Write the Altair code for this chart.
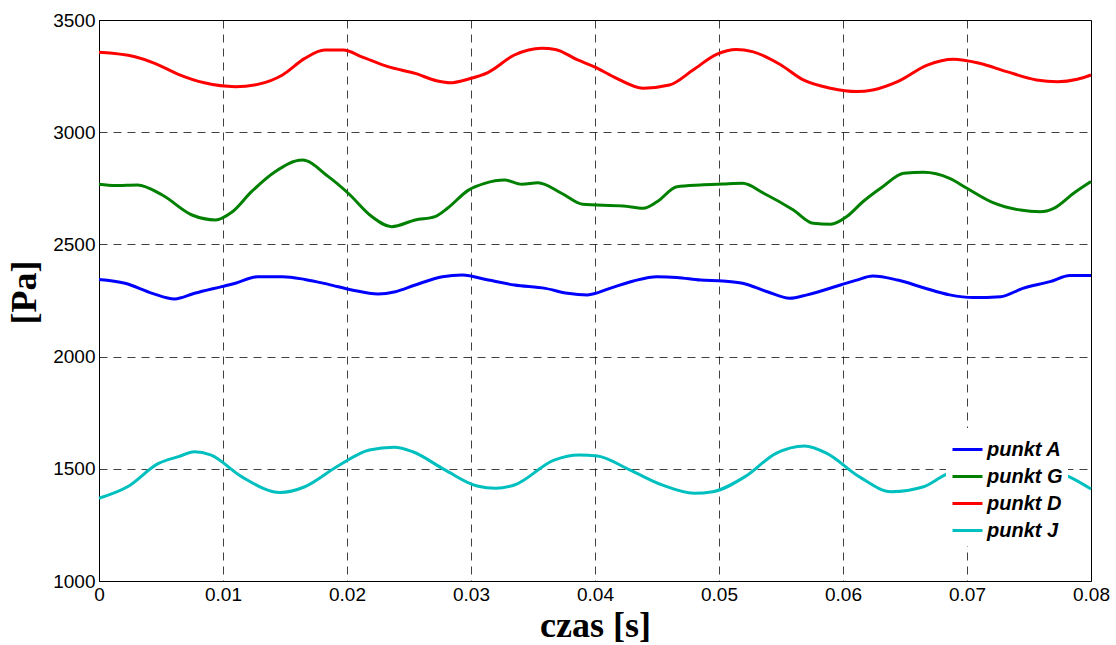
import altair as alt
import pandas as pd

# Pressure time series at four probe points (time in s, pressure in Pa)
t_A = [0, 0.0021, 0.0043, 0.0061, 0.0077, 0.0099, 0.011, 0.0128, 0.0148, 0.0166,
       0.0185, 0.0204, 0.0225, 0.0239, 0.0255, 0.0277, 0.0293, 0.0314, 0.0335, 0.036,
       0.0378, 0.0394, 0.0412, 0.0431, 0.045, 0.0466, 0.0485, 0.0503, 0.0519, 0.0539,
       0.0557, 0.0571, 0.0598, 0.0611, 0.0624, 0.0644, 0.0665, 0.0686, 0.0705, 0.0727,
       0.0745, 0.0767, 0.0783, 0.08]
p_A = [2344, 2327, 2282, 2257, 2282, 2312, 2327, 2356, 2356, 2344,
       2322, 2297, 2279, 2289, 2319, 2356, 2364, 2341, 2319, 2304,
       2282, 2275, 2304, 2337, 2356, 2353, 2341, 2337, 2327, 2289,
       2260, 2275, 2319, 2341, 2359, 2341, 2307, 2275, 2263, 2267,
       2304, 2334, 2361, 2361]

t_G = [0, 0.0013, 0.0031, 0.0051, 0.0075, 0.0094, 0.0107, 0.0123, 0.0142, 0.0164,
       0.0185, 0.0201, 0.022, 0.0236, 0.0255, 0.0271, 0.0281, 0.0298, 0.0311, 0.0327,
       0.0341, 0.0354, 0.0373, 0.039, 0.0423, 0.0439, 0.045, 0.0466, 0.0485, 0.0503,
       0.0519, 0.0536, 0.056, 0.0576, 0.059, 0.0603, 0.0616, 0.0632, 0.0649, 0.0665,
       0.0686, 0.07, 0.0721, 0.0743, 0.0759, 0.077, 0.0786, 0.08]
p_G = [2768, 2762, 2765, 2720, 2631, 2609, 2643, 2735, 2824, 2876,
       2802, 2728, 2624, 2579, 2609, 2624, 2661, 2742, 2772, 2787,
       2768, 2775, 2728, 2679, 2671, 2661, 2690, 2757, 2765, 2769,
       2772, 2728, 2653, 2594, 2590, 2624, 2690, 2757, 2817, 2821,
       2794, 2750, 2686, 2653, 2646, 2661, 2728, 2780]

t_D = [0, 0.0029, 0.0045, 0.0064, 0.0085, 0.011, 0.0128, 0.0148, 0.0166, 0.0182,
       0.0197, 0.0212, 0.0233, 0.0255, 0.0273, 0.0283, 0.0298, 0.0314, 0.0335, 0.0357,
       0.0368, 0.0386, 0.04, 0.0415, 0.0439, 0.046, 0.0479, 0.0498, 0.0514, 0.0527,
       0.0549, 0.0568, 0.059, 0.0611, 0.0624, 0.0644, 0.0668, 0.0689, 0.071, 0.0732,
       0.0756, 0.0773, 0.0789, 0.08]
p_D = [3356, 3336, 3307, 3258, 3220, 3203, 3213, 3255, 3329, 3366,
       3366, 3336, 3292, 3262, 3228, 3220, 3237, 3267, 3344, 3374,
       3369, 3322, 3290, 3247, 3196, 3210, 3277, 3347, 3369, 3359,
       3303, 3233, 3196, 3181, 3188, 3225, 3299, 3325, 3307, 3270,
       3233, 3225, 3236, 3255]

t_J = [0, 0.0023, 0.0048, 0.0064, 0.0077, 0.009, 0.0115, 0.0146, 0.0166, 0.0192,
       0.0218, 0.0238, 0.0253, 0.0279, 0.0305, 0.032, 0.0335, 0.0367, 0.0387, 0.0402,
       0.0428, 0.0454, 0.048, 0.0495, 0.0521, 0.0546, 0.0569, 0.0587, 0.0613, 0.0639,
       0.0665, 0.0682, 0.072, 0.0745, 0.0783, 0.08]
p_J = [1369, 1420, 1524, 1554, 1576, 1562, 1465, 1394, 1420, 1510,
       1584, 1596, 1576, 1495, 1423, 1413, 1428, 1539, 1562, 1557,
       1495, 1428, 1391, 1398, 1465, 1569, 1602, 1569, 1465, 1398,
       1420, 1472, 1530, 1520, 1463, 1410]

series_names = ["punkt A", "punkt G", "punkt D", "punkt J"]
series_colors = ["#0000FF", "#008000", "#FF0000", "#00BFBF"]
x_ticks = [0, 0.01, 0.02, 0.03, 0.04, 0.05, 0.06, 0.07, 0.08]
y_ticks = [1000, 1500, 2000, 2500, 3000, 3500]

frames = []
for name, t, p in zip(series_names, [t_A, t_G, t_D, t_J], [p_A, p_G, p_D, p_J]):
    frames.append(pd.DataFrame({"czas": t, "p": p, "seria": name}))
df = pd.concat(frames, ignore_index=True)

chart = (
    alt.Chart(df)
    .mark_line(strokeWidth=3, interpolate="monotone")
    .encode(
        x=alt.X(
            "czas:Q",
            scale=alt.Scale(domain=[0, 0.08], nice=False, zero=False),
            axis=alt.Axis(
                values=x_ticks,
                format=".2~f",
                title="czas [s]",
                titleY=27,
            ),
        ),
        y=alt.Y(
            "p:Q",
            scale=alt.Scale(domain=[1000, 3500], nice=False, zero=False),
            axis=alt.Axis(
                values=y_ticks,
                format="d",
                title="[Pa]",
                titleX=-56,
                titleY=272,
                titleBaseline="bottom",
            ),
        ),
        color=alt.Color(
            "seria:N",
            scale=alt.Scale(domain=series_names, range=series_colors),
            legend=alt.Legend(
                title=None,
                orient="none",
                legendX=847,
                legendY=408,
                fillColor="white",
                padding=5,
                symbolType="stroke",
                symbolSize=900,
                symbolStrokeWidth=3,
                rowPadding=0,
                labelFont="Liberation Sans",
                labelFontSize=20,
                labelFontWeight="bold",
                labelFontStyle="italic",
                labelColor="black",
                labelOffset=3,
            ),
        ),
        order=alt.Order("czas:Q"),
    )
    .properties(
        width=992,
        height=561,
        background="white",
        autosize=alt.AutoSizeParams(type="none"),
        padding={"left": 99, "top": 20, "right": 25, "bottom": 64},
    )
    .configure_view(stroke="black", strokeWidth=1)
    .configure_axis(
        ticks=False,
        domain=True,
        domainColor="black",
        domainWidth=1,
        grid=True,
        gridColor="black",
        gridOpacity=0.75,
        gridDash=[8, 6],
        gridWidth=1,
        labelFlush=False,
        labelFont="Liberation Sans",
        labelFontSize=19,
        labelColor="black",
        labelPadding=4,
        titleFont="Liberation Serif",
        titleFontSize=36,
        titleFontWeight="bold",
        titleColor="black",
    )
)

chart.save("out.html", embed_options={"renderer": "svg", "actions": False})
